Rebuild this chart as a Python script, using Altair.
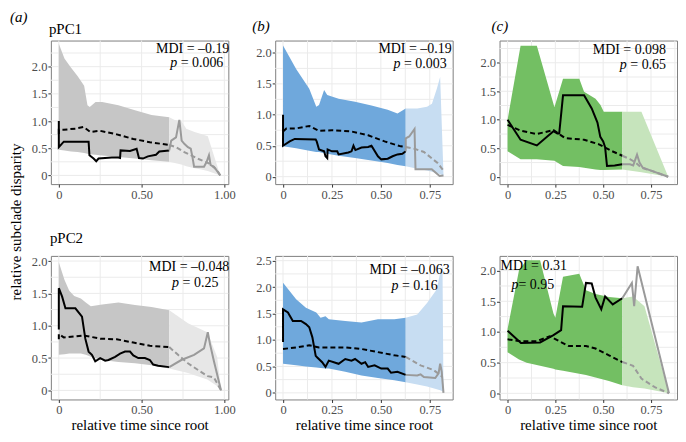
import altair as alt
import pandas as pd

FONT = "Liberation Serif"
W, H = 178, 144

# ---------------- axis ticks ----------------
X_TICKS_A = [0, 0.5, 1.0]
X_MINOR_A = [0.25, 0.75]
X_TICKS_BC = [0, 0.25, 0.5, 0.75]
X_MINOR_BC = [0.125, 0.375, 0.625, 0.875]
Y_TICKS = [0, 0.5, 1.0, 1.5, 2.0]
Y_TICKS_B2 = [0, 0.5, 1.0, 1.5, 2.0, 2.5]
Y_MINOR = [0.25, 0.75, 1.25, 1.75, 2.25]

# ---------------- colours ----------------
GRAY_DARK, GRAY_LIGHT = "#c6c6c6", "#e7e7e7"
BLUE_DARK, BLUE_LIGHT = "#6fa8dc", "#c7ddf2"
GREEN_DARK, GREEN_LIGHT = "#73bf63", "#c6e4bc"
LINE_DARK, LINE_LIGHT = "#000000", "#9a9a9a"

# ---------------- panel (a) pPC1 ----------------
A1_CUT = 0.667
A1_BAND_T = [0, 0.034, 0.074, 0.113, 0.153, 0.173, 0.187, 0.222, 0.262, 0.36, 0.46, 0.56, 0.667, 0.70, 0.74, 0.77, 0.82, 0.86, 0.90, 0.975]
A1_BAND_LO = [0.47, 0.46, 0.44, 0.43, 0.41, 0.40, 0.39, 0.38, 0.365, 0.34, 0.31, 0.28, 0.25, 0.23, 0.20, 0.17, 0.13, 0.11, 0.08, 0.0]
A1_BAND_HI = [2.42, 2.15, 1.98, 1.83, 1.65, 1.29, 1.26, 1.35, 1.35, 1.29, 1.20, 1.11, 1.07, 1.02, 1.00, 0.86, 0.80, 0.76, 0.72, 0.0]
A1_OBS_T = [0, 0, 0.03, 0.18, 0.185, 0.21, 0.226, 0.24, 0.32, 0.36, 0.37, 0.373, 0.43, 0.47, 0.484, 0.508, 0.538, 0.587, 0.607, 0.667,
            0.679, 0.708, 0.728, 0.742, 0.758, 0.78, 0.797, 0.807, 0.817, 0.877, 0.893, 0.907, 0.917, 0.937, 0.975]
A1_OBS_V = [1.0, 0.52, 0.62, 0.62, 0.37, 0.31, 0.26, 0.31, 0.33, 0.33, 0.32, 0.46, 0.45, 0.49, 0.32, 0.31, 0.35, 0.38, 0.44, 0.46,
            0.64, 0.70, 1.02, 0.64, 0.58, 0.52, 0.49, 0.34, 0.16, 0.16, 0.25, 0.37, 0.19, 0.16, 0.0]
A1_NULL_T = [0, 0, 0.03, 0.10, 0.15, 0.19, 0.25, 0.35, 0.45, 0.55, 0.667, 0.708, 0.758, 0.837, 0.907, 0.956, 0.975]
A1_NULL_V = [0.76, 0.84, 0.84, 0.86, 0.89, 0.80, 0.82, 0.755, 0.67, 0.61, 0.56, 0.52, 0.43, 0.31, 0.22, 0.10, 0.0]

# ---------------- panel (b) pPC1 ----------------
B1_CUT = 0.627
B1_BAND_T = [0, 0.067, 0.134, 0.17, 0.184, 0.21, 0.226, 0.284, 0.368, 0.452, 0.535, 0.585, 0.627, 0.686, 0.736, 0.761, 0.786, 0.803, 0.82]
B1_BAND_LO = [0.49, 0.46, 0.42, 0.40, 0.40, 0.38, 0.37, 0.34, 0.30, 0.26, 0.22, 0.19, 0.17, 0.13, 0.10, 0.08, 0.06, 0.04, 0.02]
B1_BAND_HI = [2.12, 1.74, 1.42, 1.13, 1.16, 1.40, 1.32, 1.26, 1.21, 1.15, 1.08, 1.02, 1.10, 1.10, 1.13, 1.18, 1.42, 1.61, 0.04]
B1_OBS_T = [0, 0, 0.034, 0.06, 0.167, 0.172, 0.184, 0.21, 0.217, 0.226, 0.228, 0.25, 0.277, 0.284, 0.334, 0.35, 0.36, 0.37, 0.401, 0.435,
            0.452, 0.485, 0.502, 0.535, 0.56, 0.585, 0.61, 0.627, 0.627, 0.645, 0.672, 0.677, 0.76, 0.80, 0.82]
B1_OBS_V = [1.0, 0.5, 0.57, 0.61, 0.60, 0.57, 0.44, 0.41, 0.33, 0.30, 0.44, 0.41, 0.41, 0.36, 0.39, 0.41, 0.50, 0.43, 0.47, 0.48,
            0.50, 0.33, 0.28, 0.29, 0.33, 0.36, 0.37, 0.41, 0.62, 0.65, 0.77, 0.12, 0.12, 0.01, 0.02]
B1_NULL_T = [0, 0.017, 0.067, 0.134, 0.184, 0.25, 0.351, 0.435, 0.519, 0.602, 0.627, 0.672, 0.72, 0.79, 0.81, 0.82]
B1_NULL_V = [0.73, 0.78, 0.78, 0.82, 0.74, 0.75, 0.73, 0.67, 0.57, 0.49, 0.48, 0.45, 0.40, 0.22, 0.14, 0.10]

# ---------------- panel (c) pPC1 ----------------
C1_CUT = 0.60
C1_BAND_T = [0, 0.068, 0.153, 0.245, 0.29, 0.375, 0.40, 0.46, 0.486, 0.503, 0.60, 0.70, 0.84]
C1_BAND_LO = [0.45, 0.31, 0.31, 0.28, 0.19, 0.17, 0.16, 0.13, 0.12, 0.12, 0.13, 0.08, 0.0]
C1_BAND_HI = [1.0, 2.30, 2.30, 1.22, 1.72, 1.72, 1.49, 1.37, 1.26, 1.14, 1.14, 1.14, 0.0]
C1_OBS_T = [0, 0.068, 0.153, 0.24, 0.26, 0.27, 0.29, 0.40, 0.44, 0.47, 0.485, 0.50, 0.51, 0.52, 0.56, 0.60,
            0.64, 0.657, 0.677, 0.69, 0.707, 0.758, 0.84]
C1_OBS_V = [1.0, 0.65, 0.55, 0.80, 0.76, 0.76, 1.43, 1.43, 1.20, 0.95, 0.70, 0.62, 0.52, 0.19, 0.20, 0.22,
            0.22, 0.20, 0.39, 0.25, 0.16, 0.10, 0.0]
C1_NULL_T = [0, 0.068, 0.153, 0.24, 0.30, 0.40, 0.478, 0.546, 0.60, 0.64, 0.67, 0.70, 0.758, 0.84]
C1_NULL_V = [0.91, 0.81, 0.75, 0.82, 0.68, 0.65, 0.57, 0.45, 0.37, 0.31, 0.25, 0.16, 0.10, 0.0]

# ---------------- panel (a) pPC2 ----------------
A2_CUT = 0.667
A2_BAND_T = [0, 0.034, 0.063, 0.093, 0.133, 0.163, 0.193, 0.262, 0.36, 0.46, 0.56, 0.667, 0.78, 0.897, 0.956, 0.98]
A2_BAND_LO = [0.55, 0.56, 0.57, 0.57, 0.57, 0.55, 0.52, 0.47, 0.44, 0.42, 0.39, 0.34, 0.27, 0.17, 0.07, 0.0]
A2_BAND_HI = [1.98, 1.71, 1.54, 1.46, 1.42, 1.36, 1.30, 1.33, 1.36, 1.32, 1.29, 1.24, 1.04, 0.90, 0.52, 0.0]
A2_OBS_T = [0, 0, 0.02, 0.04, 0.10, 0.14, 0.16, 0.18, 0.20, 0.22, 0.25, 0.28, 0.30, 0.34, 0.37, 0.40, 0.43, 0.45, 0.48, 0.52,
            0.55, 0.57, 0.60, 0.667, 0.74, 0.817, 0.877, 0.90, 0.913, 0.937, 0.98]
A2_OBS_V = [0.94, 1.58, 1.45, 1.27, 1.27, 1.14, 0.80, 0.60, 0.55, 0.45, 0.50, 0.46, 0.47, 0.52, 0.57, 0.60, 0.60, 0.54, 0.50, 0.50,
            0.47, 0.40, 0.38, 0.36, 0.47, 0.55, 0.65, 0.90, 0.72, 0.45, 0.0]
A2_NULL_T = [0, 0, 0.03, 0.15, 0.25, 0.35, 0.45, 0.55, 0.667, 0.72, 0.78, 0.85, 0.90, 0.937, 0.98]
A2_NULL_V = [0.79, 0.87, 0.82, 0.85, 0.80, 0.79, 0.74, 0.69, 0.67, 0.55, 0.42, 0.30, 0.22, 0.20, 0.0]

# ---------------- panel (b) pPC2 ----------------
B2_CUT = 0.627
B2_BAND_T = [0, 0.067, 0.117, 0.17, 0.192, 0.217, 0.234, 0.318, 0.401, 0.485, 0.569, 0.627, 0.686, 0.736, 0.786, 0.803, 0.815, 0.82]
B2_BAND_LO = [0.55, 0.52, 0.50, 0.48, 0.47, 0.46, 0.46, 0.40, 0.33, 0.28, 0.24, 0.20, 0.16, 0.12, 0.07, 0.05, 0.03, 0.0]
B2_BAND_HI = [2.08, 1.77, 1.61, 1.52, 1.42, 1.45, 1.39, 1.36, 1.33, 1.39, 1.39, 1.42, 1.48, 1.70, 1.96, 2.27, 2.40, 0.0]
B2_OBS_T = [0, 0, 0.025, 0.05, 0.092, 0.117, 0.134, 0.15, 0.167, 0.175, 0.20, 0.217, 0.234, 0.284, 0.318, 0.35, 0.368, 0.401, 0.42,
            0.435, 0.468, 0.502, 0.535, 0.552, 0.585, 0.627, 0.686, 0.703, 0.72, 0.778, 0.795, 0.803, 0.811, 0.82]
B2_OBS_V = [0.96, 1.58, 1.52, 1.36, 1.36, 1.30, 1.24, 1.05, 0.70, 0.67, 0.58, 0.49, 0.61, 0.55, 0.64, 0.61, 0.64, 0.55, 0.58,
            0.49, 0.52, 0.46, 0.46, 0.38, 0.40, 0.34, 0.33, 0.35, 0.30, 0.28, 0.37, 0.55, 0.40, 0.0]
B2_NULL_T = [0, 0.067, 0.134, 0.184, 0.234, 0.318, 0.401, 0.485, 0.569, 0.627, 0.703, 0.77, 0.803, 0.815]
B2_NULL_V = [0.83, 0.86, 0.90, 0.86, 0.86, 0.86, 0.83, 0.77, 0.71, 0.68, 0.52, 0.43, 0.34, 0.30]

# ---------------- panel (c) pPC2 ----------------
C2_CUT = 0.60
C2_BAND_T = [0, 0.06, 0.10, 0.17, 0.24, 0.25, 0.29, 0.375, 0.41, 0.46, 0.53, 0.60, 0.656, 0.716, 0.844]
C2_BAND_LO = [0.67, 0.55, 0.50, 0.45, 0.40, 0.39, 0.37, 0.32, 0.30, 0.26, 0.20, 0.13, 0.10, 0.08, 0.0]
C2_BAND_HI = [1.05, 2.01, 2.17, 2.17, 1.30, 1.23, 1.90, 1.95, 1.68, 1.62, 1.57, 1.55, 1.58, 1.42, 0.0]
C2_OBS_T = [0, 0.07, 0.17, 0.24, 0.28, 0.29, 0.39, 0.41, 0.44, 0.46, 0.49, 0.51, 0.55, 0.60, 0.65, 0.662, 0.68, 0.844]
C2_OBS_V = [1.02, 0.82, 0.83, 0.95, 1.03, 1.42, 1.41, 1.80, 1.79, 1.56, 1.37, 1.58, 1.45, 1.55, 1.80, 1.42, 2.07, 0.0]
C2_NULL_T = [0, 0.068, 0.153, 0.22, 0.27, 0.32, 0.41, 0.46, 0.53, 0.60, 0.656, 0.70, 0.77, 0.844]
C2_NULL_V = [0.88, 0.85, 0.85, 0.93, 0.85, 0.77, 0.77, 0.73, 0.62, 0.51, 0.45, 0.24, 0.10, 0.0]

# ---------------- annotations ----------------
MDI = ["–0.19", "–0.19", "0.098", "–0.048", "–0.063", "0.31"]
PVAL = ["0.006", "0.003", "0.65", "0.25", "0.16", "0.95"]

DOM_A = [-0.048, 1.024]
DOM_B = [-0.04, 0.867]
DOM_C = [-0.042, 0.886]

ANN = 14  # annotation font size
TW = {" ": 0.25, "=": 0.564, ".": 0.25, "–": 0.5, "-": 0.333}


def text_width(s, size):
    return size * sum(TW.get(ch, 0.5) for ch in s)


ONE = pd.DataFrame({"z": [0]})


def txt(s, x, y, align="left", size=ANN, style="normal", angle=None, baseline="alphabetic"):
    kw = dict(text=s, align=align, baseline=baseline, font=FONT, fontSize=size,
              fontStyle=style, color="#000000")
    if angle is not None:
        kw["angle"] = angle
    return alt.Chart(ONE).mark_text(**kw).encode(x=alt.value(x), y=alt.value(y))


def split_index(ts, cut):
    for i, t in enumerate(ts):
        if t >= cut - 1e-9:
            return i
    return len(ts) - 1


AXIS_STYLE = dict(domain=False, grid=False, ticks=True, tickSize=3, tickColor="#333333", tickWidth=1,
                  labelFont=FONT, labelFontSize=12.5, labelColor="#4d4d4d", labelPadding=1, labelFlush=False,
                  titleFont=FONT, titleFontSize=15, titleFontWeight="normal", titleColor="#000000")


def panel(band, obs, null, cut, xdom, ydom, xt, xm, yt, cols, mdi, pv, mdi_pos, p_pos, bottom, extra):
    xs = alt.Scale(domain=xdom, nice=False, zero=False)
    ys = alt.Scale(domain=ydom, nice=False, zero=False)
    xa_kw = dict(AXIS_STYLE, values=xt, labelExpr="datum.value == 0 ? '0' : format(datum.value, '.2f')")
    if bottom:
        xa_kw.update(title="relative time since root", titleBaseline="alphabetic", titleY=30)
    else:
        xa_kw.update(title=None)
    xaxis = alt.Axis(**xa_kw)
    yaxis = alt.Axis(**AXIS_STYLE, values=yt, title=None,
                     labelExpr="datum.value == 0 ? '0' : format(datum.value, '.1f')")
    X = lambda f: alt.X(f"{f}:Q", scale=xs, axis=xaxis)
    Y = lambda f: alt.Y(f"{f}:Q", scale=ys, axis=yaxis)

    layers = []
    # grid (major + minor)
    xgrid = [v for v in xt + xm if xdom[0] < v < xdom[1]]
    ygrid = [v for v in yt + Y_MINOR if ydom[0] < v < ydom[1]]
    layers.append(alt.Chart(pd.DataFrame({"t": xgrid})).mark_rule(color="#ebebeb", strokeWidth=1).encode(x=X("t")))
    layers.append(alt.Chart(pd.DataFrame({"v": ygrid})).mark_rule(color="#ebebeb", strokeWidth=1).encode(y=Y("v")))

    # envelope
    bt, lo, hi = band
    k = split_index(bt, cut)
    bdf = pd.DataFrame({"t": bt, "lo": lo, "hi": hi})
    layers.append(alt.Chart(bdf.iloc[:k + 1]).mark_area(color=cols[0], opacity=1).encode(x=X("t"), y=Y("lo"), y2="hi:Q"))
    layers.append(alt.Chart(bdf.iloc[k:]).mark_area(color=cols[1], opacity=1).encode(x=X("t"), y=Y("lo"), y2="hi:Q"))

    def lines(ts, vs, dash):
        j = split_index(ts, cut)
        out = []
        for idx, color in ((range(0, j + 1), LINE_DARK), (range(j, len(ts)), LINE_LIGHT)):
            idx = list(idx)
            df = pd.DataFrame({"t": [ts[i] for i in idx], "v": [vs[i] for i in idx], "i": list(range(len(idx)))})
            kw = dict(color=color, strokeWidth=2)
            if dash:
                kw["strokeDash"] = [5, 3]
            out.append(alt.Chart(df).mark_line(**kw).encode(x=X("t"), y=Y("v"), order="i:Q"))
        return out

    layers += lines(null[0], null[1], True)
    layers += lines(obs[0], obs[1], False)

    # MDI text
    mdi_text = "MDI = " + mdi
    layers.append(txt(mdi_text, mdi_pos[1], mdi_pos[2], align=mdi_pos[0]))
    ptail = " = " + pv
    if p_pos[0] == "right":
        layers.append(txt(ptail, p_pos[1], p_pos[2], align="right"))
        layers.append(txt("p", p_pos[1] - text_width(ptail, ANN), p_pos[2], align="right", style="italic"))
    else:
        layers.append(txt("p", p_pos[1], p_pos[2], align="left", style="italic"))
        layers.append(txt(ptail, p_pos[1] + 0.5 * ANN, p_pos[2], align="left"))
    layers += extra
    return alt.layer(*layers).properties(width=W, height=H)


panels = [
    panel((A1_BAND_T, A1_BAND_LO, A1_BAND_HI), (A1_OBS_T, A1_OBS_V), (A1_NULL_T, A1_NULL_V), A1_CUT,
          DOM_A, [-0.16, 2.48], X_TICKS_A, X_MINOR_A, Y_TICKS, (GRAY_DARK, GRAY_LIGHT), MDI[0], PVAL[0],
          ("right", W + 1, 12), ("right", W - 5, 27), False,
          [txt("(a)", -41, -19, size=15, style="italic"), txt("pPC1", -2, -7, size=15),
           txt("relative subclade disparity", -35, 182, align="center", size=15, angle=270, baseline="middle")]),
    panel((B1_BAND_T, B1_BAND_LO, B1_BAND_HI), (B1_OBS_T, B1_OBS_V), (B1_NULL_T, B1_NULL_V), B1_CUT,
          DOM_B, [-0.12, 2.2], X_TICKS_BC, X_MINOR_BC, Y_TICKS, (BLUE_DARK, BLUE_LIGHT), MDI[1], PVAL[1],
          ("right", W - 1, 12), ("right", W - 6, 28), False,
          [txt("(b)", -23, -10, size=15, style="italic")]),
    panel((C1_BAND_T, C1_BAND_LO, C1_BAND_HI), (C1_OBS_T, C1_OBS_V), (C1_NULL_T, C1_NULL_V), C1_CUT,
          DOM_C, [-0.128, 2.39], X_TICKS_BC, X_MINOR_BC, Y_TICKS, (GREEN_DARK, GREEN_LIGHT), MDI[2], PVAL[2],
          ("right", W - 11, 13), ("right", W - 11, 29), False,
          [txt("(c)", -8, -10, size=15, style="italic")]),
    panel((A2_BAND_T, A2_BAND_LO, A2_BAND_HI), (A2_OBS_T, A2_OBS_V), (A2_NULL_T, A2_NULL_V), A2_CUT,
          DOM_A, [-0.14, 2.08], X_TICKS_A, X_MINOR_A, Y_TICKS, (GRAY_DARK, GRAY_LIGHT), MDI[3], PVAL[3],
          ("right", W + 1, 15), ("right", W - 10, 31), True,
          [txt("pPC2", -1, -13, size=15)]),
    panel((B2_BAND_T, B2_BAND_LO, B2_BAND_HI), (B2_OBS_T, B2_OBS_V), (B2_NULL_T, B2_NULL_V), B2_CUT,
          DOM_B, [-0.125, 2.59], X_TICKS_BC, X_MINOR_BC, Y_TICKS_B2, (BLUE_DARK, BLUE_LIGHT), MDI[4], PVAL[4],
          ("right", W - 3, 18), ("right", W - 15, 34), True, []),
    panel((C2_BAND_T, C2_BAND_LO, C2_BAND_HI), (C2_OBS_T, C2_OBS_V), (C2_NULL_T, C2_NULL_V), C2_CUT,
          DOM_C, [-0.1, 2.24], X_TICKS_BC, X_MINOR_BC, Y_TICKS, (GREEN_DARK, GREEN_LIGHT), MDI[5], PVAL[5],
          ("left", 1, 14), ("left", 12, 33), True, []),
]

chart = alt.concat(*panels, columns=3, spacing={"row": 72, "column": 47}, bounds="flush").properties(
    padding=0, background="white"
).configure_view(
    stroke="#7f7f7f", strokeWidth=1
).configure_axis(**AXIS_STYLE)

chart.save("out.html", embed_options={"renderer": "svg", "actions": False})
